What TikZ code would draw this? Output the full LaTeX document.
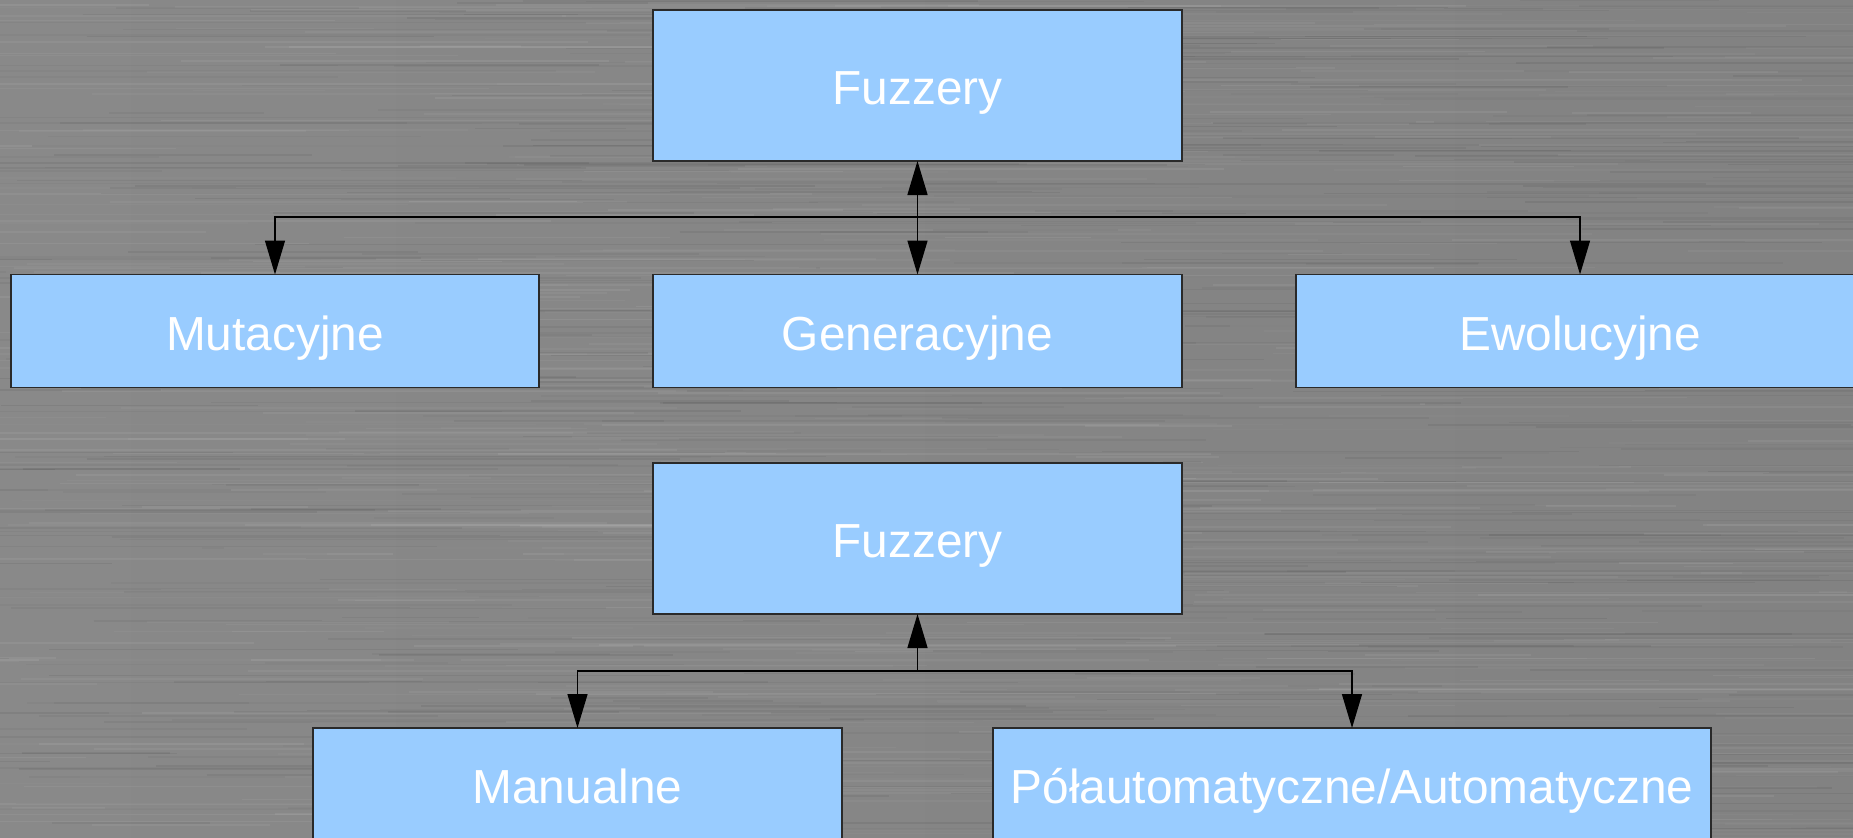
\documentclass[tikz,border=0pt]{standalone}
\usepackage{fontspec}
\setmainfont{Liberation Sans}
\usetikzlibrary{arrows.meta}
\definecolor{boxblue}{HTML}{99CCFF}
\definecolor{boxline}{HTML}{2A2A2A}
\definecolor{bgleft}{HTML}{898989}
\definecolor{bgright}{HTML}{828282}
\begin{document}
\begin{tikzpicture}[x=1pt,y=-1pt,
  box/.style={draw=boxline, line width=1.4pt, fill=boxblue, rectangle, inner sep=0pt, outer sep=0pt},
  lbl/.style={text=white, font=\fontsize{47.8}{56}\selectfont, anchor=base, inner sep=0pt},
  conn/.style={line width=1.4pt, draw=black},
  tip/.style={-{Triangle[length=34pt,width=20pt]}},
  tips/.style={{Triangle[length=34pt,width=20pt]}-{Triangle[length=34pt,width=20pt]}}]
\clip (0,0) rectangle (1853,838);
% brushed metal background
\shade[left color=bgleft, right color=bgright] (0,0) rectangle (1853,838);
\pgfmathsetseed{42}
\foreach \i in {1,...,500}{
  \pgfmathsetmacro{\yy}{rnd*838}
  \pgfmathsetmacro{\xx}{rnd*2000-250}
  \pgfmathsetmacro{\ll}{120+rnd*700}
  \pgfmathsetmacro{\op}{0.02+rnd*0.05}
  \draw[white, opacity=\op, line width=1.6pt] (\xx,\yy) -- ++(\ll,0);
}
\foreach \i in {1,...,500}{
  \pgfmathsetmacro{\yy}{rnd*838}
  \pgfmathsetmacro{\xx}{rnd*2000-250}
  \pgfmathsetmacro{\ll}{120+rnd*700}
  \pgfmathsetmacro{\op}{0.02+rnd*0.045}
  \draw[black, opacity=\op, line width=1.6pt] (\xx,\yy) -- ++(\ll,0);
}
% boxes
\node[box, minimum width=529pt, minimum height=151pt] (f1) at (917.5,85.5) {};
\node[box, minimum width=528pt, minimum height=113pt] (mut) at (275,331) {};
\node[box, minimum width=529pt, minimum height=113pt] (gen) at (917.5,331) {};
\node[box, minimum width=568pt, minimum height=113pt] (ewo) at (1580,331) {};
\node[box, minimum width=529pt, minimum height=151pt] (f2) at (917.5,538.5) {};
\node[box, minimum width=529pt, minimum height=113pt] (man) at (577.5,784.5) {};
\node[box, minimum width=718pt, minimum height=113pt] (pol) at (1352,784.5) {};
% labels
\node[lbl] (tf1) at ([yshift=-19pt]f1.center) {Fuzzery};
\node[lbl] (tmut) at ([yshift=-19pt]mut.center) {Mutacyjne};
\node[lbl] (tgen) at ([yshift=-19pt]gen.center) {Generacyjne};
\node[lbl] (tewo) at ([yshift=-19pt]ewo.center) {Ewolucyjne};
\node[lbl] (tf2) at ([yshift=-19pt]f2.center) {Fuzzery};
\node[lbl] (tman) at ([yshift=-19pt]man.center) {Manualne};
\node[lbl] (tpol) at ([yshift=-19pt]pol.center) {Półautomatyczne/Automatyczne};
% junctions
\coordinate (j1) at (917.5,217);
\coordinate (j2) at (917.5,671);
% connectors
\draw[conn, tips] (f1.south) -- (gen.north);
\draw[conn, tip] (j1) -| (mut.north);
\draw[conn, tip] (j1) -| (ewo.north);
\draw[conn, tip] (j2) -- (f2.south);
\draw[conn, tip] (j2) -| (man.north);
\draw[conn, tip] (j2) -| (pol.north);
\end{tikzpicture}
\end{document}
